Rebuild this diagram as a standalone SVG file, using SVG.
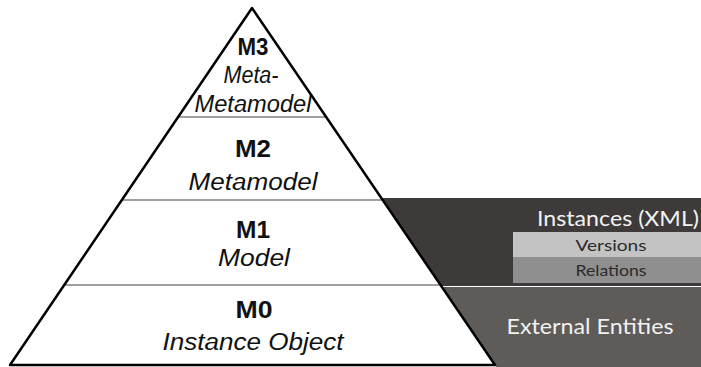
<svg xmlns="http://www.w3.org/2000/svg" width="701" height="367" viewBox="0 0 701 367">
  <style>
    .lvl { font-family: "Liberation Sans", Arial, sans-serif; fill: #111; text-anchor: middle; }
    .code { font-weight: bold; font-size: 23px; }
    .name { font-style: italic; font-size: 23px; }
    .side { font-family: Lato, "Open Sans", sans-serif; fill: #f2f2f2; }
    .tag { font-family: Lato, "Open Sans", sans-serif; fill: #2a2a2a; font-size: 15px; text-anchor: middle; }
    .divider { stroke: #a0a0a0; stroke-width: 2; }
  </style>

  <!-- side panels attached to the pyramid -->
  <g id="instances-panel">
    <polygon points="381.3,198 701,198 701,286 441.2,286" fill="#3e3a3a"/>
    <text class="side" x="699" y="226" font-size="21" text-anchor="end" textLength="162" lengthAdjust="spacingAndGlyphs">Instances (XML)</text>
  </g>
  <g id="versions">
    <rect x="513" y="232" width="188" height="25" fill="#c3c3c3"/>
    <text class="tag" x="611" y="251" textLength="71" lengthAdjust="spacingAndGlyphs">Versions</text>
  </g>
  <g id="relations">
    <rect x="513" y="257" width="188" height="26" fill="#8f8f8f"/>
    <text class="tag" x="611" y="276" textLength="71" lengthAdjust="spacingAndGlyphs">Relations</text>
  </g>
  <g id="external-entities">
    <polygon points="441.9,287 701,287 701,367 496.4,367" fill="#5e5b59"/>
    <text class="side" x="590" y="334" font-size="21" text-anchor="middle" textLength="167" lengthAdjust="spacingAndGlyphs">External Entities</text>
  </g>

  <!-- pyramid layers -->
  <g id="m3">
    <text class="lvl code" x="253" y="55" font-size="21" textLength="31" lengthAdjust="spacingAndGlyphs">M3</text>
    <text class="lvl name" x="251" y="83" font-size="21" textLength="55" lengthAdjust="spacingAndGlyphs">Meta-</text>
    <text class="lvl name" x="253" y="112" font-size="21" textLength="117" lengthAdjust="spacingAndGlyphs">Metamodel</text>
  </g>
  <g id="m2">
    <text class="lvl code" x="253" y="157" textLength="36" lengthAdjust="spacingAndGlyphs">M2</text>
    <text class="lvl name" x="253" y="190" textLength="129" lengthAdjust="spacingAndGlyphs">Metamodel</text>
  </g>
  <g id="m1">
    <text class="lvl code" x="253" y="238" textLength="34" lengthAdjust="spacingAndGlyphs">M1</text>
    <text class="lvl name" x="254" y="266" textLength="72" lengthAdjust="spacingAndGlyphs">Model</text>
  </g>
  <g id="m0">
    <text class="lvl code" x="254" y="318" textLength="37" lengthAdjust="spacingAndGlyphs">M0</text>
    <text class="lvl name" x="253" y="350" textLength="181" lengthAdjust="spacingAndGlyphs">Instance Object</text>
  </g>

  <!-- layer boundaries and outline -->
  <g id="connectors">
    <line class="divider" x1="178.1" y1="117" x2="326.2" y2="117"/>
    <line class="divider" x1="121.8" y1="200" x2="382.7" y2="200"/>
    <line class="divider" x1="64.9" y1="285" x2="439.9" y2="285"/>
    <polygon points="252,8 495,365 10,365" fill="none" stroke="#000" stroke-width="2.5" stroke-linejoin="round"/>
  </g>
</svg>
